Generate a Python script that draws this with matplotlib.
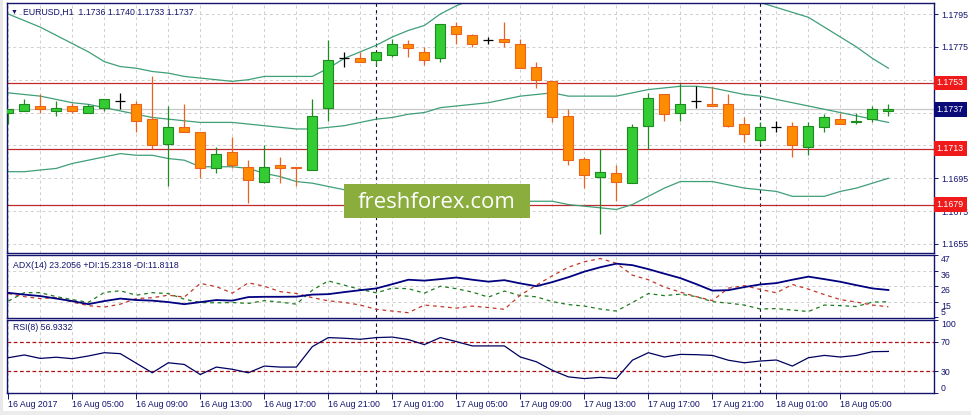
import numpy as np
import matplotlib
matplotlib.use("Agg")
import matplotlib.pyplot as plt
from matplotlib.patches import Rectangle

# EURUSD H1, 16 Aug 01:00 .. 18 Aug 08:00
opens = [1.1735, 1.1736, 1.1739, 1.1736, 1.1739, 1.1735, 1.1738, 1.1742, 1.1740, 1.1731,
         1.1716, 1.1726, 1.1723, 1.1701, 1.1711, 1.1702, 1.1693, 1.1703, 1.1702, 1.1700,
         1.1738, 1.1768, 1.1768, 1.1767, 1.1770, 1.1777, 1.1772, 1.1768, 1.1788, 1.1782,
         1.1779, 1.1780, 1.1777, 1.1763, 1.1754, 1.1733, 1.1707, 1.1696, 1.1698, 1.1692,
         1.1727, 1.1746, 1.1735, 1.1742, 1.1740, 1.1740, 1.1728, 1.1718, 1.1726, 1.1727,
         1.1714, 1.1726, 1.1731, 1.1729, 1.1731, 1.1736]
highs = [1.1737, 1.1743, 1.1746, 1.1742, 1.1741, 1.1740, 1.1743, 1.1747, 1.1742, 1.1757,
         1.1739, 1.1740, 1.1723, 1.1714, 1.1720, 1.1706, 1.1715, 1.1708, 1.1702, 1.1743,
         1.1779, 1.1772, 1.1772, 1.1772, 1.1780, 1.1779, 1.1775, 1.1789, 1.1790, 1.1783,
         1.1781, 1.1790, 1.1780, 1.1766, 1.1754, 1.1737, 1.1708, 1.1713, 1.1703, 1.1728,
         1.1747, 1.1746, 1.1753, 1.1751, 1.1751, 1.1746, 1.1732, 1.1729, 1.1730, 1.1729,
         1.1729, 1.1734, 1.1735, 1.1735, 1.1739, 1.1740]
lows = [1.1728, 1.1736, 1.1735, 1.1733, 1.1735, 1.1735, 1.1736, 1.1737, 1.1723, 1.1713,
        1.1690, 1.1723, 1.1695, 1.1698, 1.1701, 1.1680, 1.1692, 1.1692, 1.1690, 1.1700,
        1.1730, 1.1763, 1.1766, 1.1764, 1.1769, 1.1769, 1.1764, 1.1766, 1.1777, 1.1775,
        1.1777, 1.1775, 1.1762, 1.1750, 1.1729, 1.1703, 1.1689, 1.1661, 1.1681, 1.1692,
        1.1713, 1.1730, 1.1730, 1.1738, 1.1739, 1.1726, 1.1717, 1.1716, 1.1723, 1.1708,
        1.1709, 1.1723, 1.1728, 1.1728, 1.1729, 1.1733]
closes = [1.1737, 1.1740, 1.1737, 1.1738, 1.1736, 1.1739, 1.1743, 1.1742, 1.1730, 1.1715,
          1.1726, 1.1723, 1.1701, 1.1710, 1.1703, 1.1694, 1.1702, 1.1701, 1.1701, 1.1733,
          1.1767, 1.1768, 1.1766, 1.1772, 1.1777, 1.1774, 1.1767, 1.1789, 1.1783, 1.1777,
          1.1779, 1.1778, 1.1762, 1.1755, 1.1732, 1.1706, 1.1697, 1.1699, 1.1693, 1.1726,
          1.1744, 1.1734, 1.1740, 1.1742, 1.1739, 1.1727, 1.1722, 1.1726, 1.1726, 1.1715,
          1.1727, 1.1732, 1.1728, 1.1730, 1.1737, 1.1737]

bb_upper = [1.1795, 1.1791, 1.1787, 1.1782, 1.1777, 1.1772, 1.1766, 1.1763, 1.1762, 1.1760,
            1.1759, 1.1757, 1.1756, 1.1755, 1.1754, 1.1755, 1.1757, 1.1757, 1.1757, 1.1757,
            1.1762, 1.1768, 1.1772, 1.1776, 1.1781, 1.1785, 1.1788, 1.1795, 1.1800, 1.1804,
            1.1807, 1.1810, 1.1812, 1.1814, 1.1816, 1.1818, 1.1820, 1.1821, 1.1821, 1.1820,
            1.1818, 1.1816, 1.1813, 1.1810, 1.1808, 1.1806, 1.1804, 1.1802, 1.1799, 1.1796,
            1.1793, 1.1787, 1.1781, 1.1775, 1.1768, 1.1762]
bb_mid = [1.1747, 1.1746, 1.1745, 1.1743, 1.1741, 1.1740, 1.1738, 1.1736, 1.1734, 1.1732,
          1.1731, 1.1730, 1.1729, 1.1729, 1.1729, 1.1728, 1.1727, 1.1726, 1.1725, 1.1725,
          1.1726, 1.1727, 1.1729, 1.1731, 1.1732, 1.1734, 1.1735, 1.1738, 1.1739, 1.1740,
          1.1741, 1.1743, 1.1745, 1.1746, 1.1747, 1.1745, 1.1745, 1.1745, 1.1745, 1.1747,
          1.1749, 1.1750, 1.1751, 1.1751, 1.1750, 1.1748, 1.1746, 1.1745, 1.1743, 1.1741,
          1.1739, 1.1737, 1.1735, 1.1733, 1.1731, 1.1729]
bb_lower = [1.1699, 1.1699, 1.1700, 1.1701, 1.1704, 1.1706, 1.1708, 1.1710, 1.1709, 1.1709,
            1.1707, 1.1706, 1.1702, 1.1702, 1.1702, 1.1701, 1.1698, 1.1696, 1.1693, 1.1692,
            1.1690, 1.1688, 1.1687, 1.1685, 1.1684, 1.1684, 1.1683, 1.1682, 1.1682, 1.1681,
            1.1681, 1.1681, 1.1681, 1.1681, 1.1681, 1.1679, 1.1678, 1.1677, 1.1676, 1.1679,
            1.1684, 1.1689, 1.1693, 1.1693, 1.1693, 1.1691, 1.1689, 1.1688, 1.1687, 1.1684,
            1.1684, 1.1684, 1.1687, 1.1689, 1.1692, 1.1695]

adx = [21.3, 20.1, 19.1, 17.4, 15.7, 13.6, 15.7, 17.4, 16.4, 16.0,
       15.0, 13.6, 15.0, 16.4, 16.0, 18.4, 18.6, 18.6, 18.7, 20.1,
       20.4, 21.8, 23.1, 24.3, 27.2, 30.2, 29.6, 30.6, 31.7, 30.2,
       28.9, 29.9, 27.7, 25.8, 28.6, 31.9, 35.7, 38.7, 41.1, 40.1,
       37.4, 34.3, 31.3, 27.2, 22.8, 23.1, 25.2, 27.0, 27.9, 30.2,
       32.3, 30.6, 28.8, 26.5, 24.3, 23.2056]
plus_di = [15.7, 21.4, 21.4, 18.7, 16.7, 14.8, 21.6, 22.7, 19.7, 21.4,
           20.8, 17.0, 14.7, 14.5, 14.7, 14.1, 16.0, 15.0, 13.6, 23.1,
           29.4, 26.5, 23.6, 21.3, 24.5, 24.1, 21.1, 25.8, 24.1, 21.8,
           18.4, 22.5, 19.4, 18.6, 15.3, 13.3, 12.3, 10.3, 8.9, 14.7,
           20.8, 19.4, 20.4, 18.7, 15.3, 14.3, 13.0, 10.3, 10.6, 9.6,
           8.6, 13.0, 12.6, 12.0, 15.0, 15.2318]
minus_di = [20.8, 18.7, 17.4, 18.0, 15.0, 12.6, 11.6, 13.6, 17.4, 18.0,
            19.7, 18.4, 27.7, 25.5, 21.1, 28.1, 25.8, 22.1, 20.9, 18.0,
            15.9, 14.8, 13.0, 10.1, 8.9, 7.8, 13.0, 12.0, 10.9, 12.3,
            11.3, 10.1, 19.7, 26.5, 32.9, 38.7, 42.4, 44.6, 41.4, 33.3,
            30.2, 25.2, 21.8, 18.7, 16.0, 24.5, 26.2, 23.6, 21.3, 27.0,
            23.8, 20.1, 16.7, 15.0, 13.0, 11.8118]
rsi = [48.3, 52.1, 47.4, 49.0, 47.0, 50.7, 55.2, 53.9, 40.8, 27.7,
       41.4, 39.1, 25.3, 35.5, 32.5, 27.7, 36.9, 35.5, 35.5, 63.5,
       75.9, 75.0, 73.6, 75.9, 76.6, 73.2, 66.3, 75.9, 70.4, 64.5,
       64.5, 64.5, 49.3, 42.8, 31.1, 22.1, 19.8, 21.4, 19.8, 44.9,
       55.2, 49.3, 52.9, 52.5, 51.5, 44.9, 41.4, 43.8, 45.2, 36.9,
       48.3, 51.5, 49.3, 51.5, 56.6, 56.9332]

levels = [1.1753, 1.1713, 1.1679]
price_ticks = [1.1655, 1.1675, 1.1695, 1.1715, 1.1735, 1.1755, 1.1775, 1.1795]
adx_ticks = [47, 36, 26, 15, 5]
rsi_ticks = [0, 30, 70, 100]
rsi_levels = [30, 70]
day_starts = [23, 47]
time_labels = ["16 Aug 2017", "16 Aug 05:00", "16 Aug 09:00", "16 Aug 13:00", "16 Aug 17:00",
               "16 Aug 21:00", "17 Aug 01:00", "17 Aug 05:00", "17 Aug 09:00", "17 Aug 13:00",
               "17 Aug 17:00", "17 Aug 21:00", "18 Aug 01:00", "18 Aug 05:00"]

NAVY = "#14146e"
FONT = ["Liberation Sans", "DejaVu Sans"]
FS = 6.3
plt.rcParams["font.family"] = FONT

o, h, l, c = map(np.array, (opens, highs, lows, closes))
x = np.arange(len(o))

W, H = 971, 415
fig = plt.figure(figsize=(W / 100, H / 100), dpi=100)
fig.patch.set_facecolor("white")


def box(x0, y0, x1, y1):
    return [x0 / W, 1 - y1 / H, (x1 - x0) / W, (y1 - y0) / H]


ax1 = fig.add_axes(box(7, 3, 934, 253))
ax2 = fig.add_axes(box(7, 255, 934, 318))
ax3 = fig.add_axes(box(7, 320, 934, 393))

for ax in (ax1, ax2, ax3):
    ax.set_xlim(-0.08, 57.85)
    for s in ax.spines.values():
        s.set_color(NAVY)
        s.set_linewidth(1.0)
    ax.yaxis.tick_right()
    ax.tick_params(axis="y", colors=NAVY, labelcolor=NAVY, labelsize=FS, length=3, width=0.7, pad=2)
    for i in range(0, len(x) + 2, 2):
        ax.axvline(i, color="#cfcfcf", lw=0.7, ls=(0, (3, 3)), zorder=0)
    for d in day_starts:
        ax.axvline(d, color="#101030", lw=0.8, ls=(0, (3, 3)), zorder=1)
for ax in (ax1, ax2):
    ax.tick_params(axis="x", bottom=False, labelbottom=False)

# main price panel
ax1.set_ylim(1.16495, 1.18017)
ax1.set_yticks(price_ticks)
# labels sitting under a level/price box are hidden, as in the terminal
covered = [abs(p - lv) < 0.0003 for p in price_ticks for lv in levels + [closes[-1]]]
covered = [any(covered[i * 4:(i + 1) * 4]) for i in range(len(price_ticks))]
ax1.set_yticklabels(["" if cv else f"{p:.4f}" for p, cv in zip(price_ticks, covered)])
for p in price_ticks:
    ax1.axhline(p, color="#cfcfcf", lw=0.7, ls=(0, (3, 3)), zorder=0)
ax1.axhline(c[-1], color="#c8c8c8", lw=0.9, zorder=1)
for lv in levels:
    ax1.axhline(lv, color="#c0282d", lw=0.9, zorder=1.5)

band_col = "#3f9f78"
ax1.plot(x, bb_upper, color=band_col, lw=0.9, zorder=2)
ax1.plot(x, bb_mid, color=band_col, lw=0.9, zorder=2)
ax1.plot(x, bb_lower, color=band_col, lw=0.9, zorder=2)

bw = 0.62
up = c > o + 1e-9
dn = c < o - 1e-9
dj = ~(up | dn)
ax1.vlines(x[up], l[up], h[up], color="#1f8a1f", lw=0.9, zorder=3)
ax1.bar(x[up], (c - o)[up], bottom=o[up], width=bw, color="#33cc33",
        edgecolor="#1f8a1f", lw=0.8, zorder=4)
ax1.vlines(x[dn], l[dn], h[dn], color="#e8641e", lw=0.9, zorder=3)
ax1.bar(x[dn], (o - c)[dn], bottom=c[dn], width=bw, color="#ff8c00",
        edgecolor="#e8641e", lw=0.8, zorder=4)
ax1.vlines(x[dj], l[dj], h[dj], color="black", lw=0.9, zorder=4)
ax1.hlines(o[dj], x[dj] - bw / 2, x[dj] + bw / 2, color="black", lw=0.9, zorder=4)

tr = ax1.get_yaxis_transform()
for lv in levels:
    ax1.text(1.003, lv, f"{lv:.4f}", transform=tr, color="white", fontsize=FS,
             va="center", ha="left", clip_on=False, zorder=10,
             bbox=dict(boxstyle="square,pad=0.32", fc="#f01a1a", ec="none"))
ax1.text(1.003, c[-1], f"{c[-1]:.4f}", transform=tr, color="white", fontsize=FS,
         va="center", ha="left", clip_on=False, zorder=10,
         bbox=dict(boxstyle="square,pad=0.32", fc="#0a0a78", ec="none"))

fig.text(11 / W, 1 - 12 / H, "\u25bc", color=NAVY, fontsize=5, va="center", ha="left")
fig.text(23 / W, 1 - 12 / H,
         f"EURUSD,H1  {o[-1]:.4f} {h[-1]:.4f} {l[-1]:.4f} {c[-1]:.4f}",
         color=NAVY, fontsize=FS, va="center", ha="left")

# watermark
fig.add_artist(Rectangle((344 / W, 1 - 218 / H), 186 / W, 34 / H, transform=fig.transFigure,
                         fc="#8aad3e", ec="none", zorder=20))
fig.text(437 / W, 1 - 202 / H, "freshforex.com", color="white", fontsize=16,
         family=["Open Sans", "DejaVu Sans"], ha="center", va="center", zorder=21)

# ADX panel
ax2.set_ylim(4.2, 46.9)
ax2.set_yticks(adx_ticks)
ax2.set_yticklabels([str(t) for t in adx_ticks])
for lbl in ax2.get_yticklabels():
    lbl.set_va("bottom" if lbl.get_text() == "5" else "top")
for t in adx_ticks[1:4]:
    ax2.axhline(t, color="#cfcfcf", lw=0.7, ls=(0, (3, 3)), zorder=0)
ax2.plot(x, plus_di, color="#1e7b1e", lw=0.9, ls=(0, (3, 3)), zorder=2)
ax2.plot(x, minus_di, color="#c0392b", lw=0.9, ls=(0, (3, 3)), zorder=2)
ax2.plot(x, adx, color="#000080", lw=1.3, zorder=3)
fig.text(13 / W, 1 - 265 / H,
         f"ADX(14) {adx[-1]:.4f} +DI:{plus_di[-1]:.4f} -DI:{minus_di[-1]:.4f}",
         color=NAVY, fontsize=FS, va="center", ha="left")

# RSI panel
ax3.set_ylim(0, 100)
ax3.set_yticks(rsi_ticks)
ax3.set_yticklabels([str(t) for t in rsi_ticks])
for lbl in ax3.get_yticklabels():
    if lbl.get_text() == "100":
        lbl.set_va("top")
    elif lbl.get_text() == "0":
        lbl.set_va("bottom")
for lv in rsi_levels:
    ax3.axhline(lv, color="#b01010", lw=0.9, ls=(0, (3, 2)), zorder=1)
ax3.plot(x, rsi, color="#000060", lw=0.9, zorder=3)
fig.text(13 / W, 1 - 328 / H, f"RSI(8) {rsi[-1]:.4f}", color=NAVY, fontsize=FS,
         va="center", ha="left")

ax3.set_xticks(x[::4][:len(time_labels)])
ax3.set_xticklabels(time_labels)
ax3.tick_params(axis="x", colors=NAVY, labelcolor=NAVY, labelsize=FS, length=4, width=0.7, pad=1)
for lbl in ax3.get_xticklabels():
    lbl.set_ha("left")

# window frame bits
fig.add_artist(Rectangle((0, 0), 3 / W, 1, transform=fig.transFigure, fc="#e8e8e8", ec="none"))
fig.add_artist(Rectangle((0, 0), 1, 4 / H, transform=fig.transFigure, fc="#ececec", ec="none"))

fig.savefig("out.png", dpi=100)
